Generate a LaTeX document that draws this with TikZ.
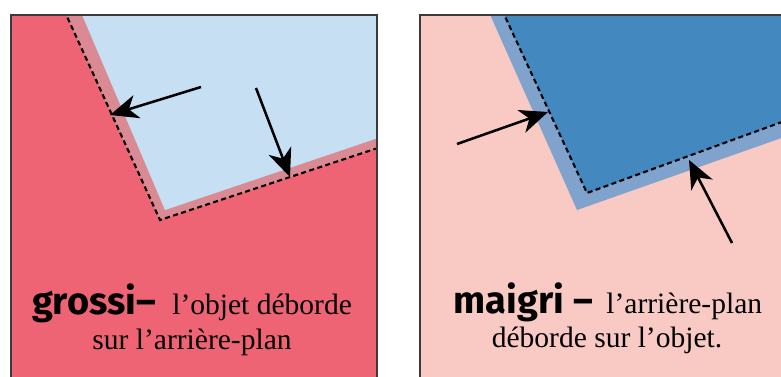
\documentclass[tikz,border=0pt]{standalone}
\usepackage{fontspec}
\setmainfont{Liberation Serif}
\newfontfamily\titresans{Fira Sans}
\usepackage{tikz}
\usetikzlibrary{arrows.meta}

\definecolor{fondrouge}{HTML}{EF6475}
\definecolor{bandrose}{HTML}{DA8A93}
\definecolor{cielclair}{HTML}{C6DFF3}
\definecolor{fondrose}{HTML}{F9C9C3}
\definecolor{bandbleu}{HTML}{7FA3CC}
\definecolor{bleufonce}{HTML}{4389C0}
\definecolor{cadregris}{HTML}{3A3A3A}

\begin{document}
\begin{tikzpicture}[
  x=0.025cm, y=-0.025cm,
  cadre/.style={draw=cadregris, line width=1.6pt},
  bord/.style={line width=1.5pt, dash pattern=on 3.6pt off 2.4pt},
  fleche/.style={-{Stealth[length=20pt,width=17pt,inset=6pt]}, line width=1.8pt},
  legende/.style={anchor=base, inner sep=0pt, font=\fontsize{21}{25}\selectfont},
  titre/.style={font=\titresans\bfseries\fontsize{27}{25}\selectfont}
]
\useasboundingbox (0,0) rectangle (781,376);

% grossi
\begin{scope}
  \clip (11,15) rectangle (377,390);
  \fill[fondrouge] (11,15) rectangle (377,390);
  \fill[bandrose] (64,10) -- (160,220) -- (390,144) -- (390,10) -- cycle;
  \fill[cielclair] (80,10) -- (165,210) -- (390,134) -- (390,10) -- cycle;
  \draw[bord] (64,10) -- (160,220) -- (390,144);
\end{scope}
\draw[cadre] (11,390) -- (11,15) -- (377,15) -- (377,390);

% maigri
\begin{scope}
  \clip (420,15) rectangle (790,390);
  \fill[fondrose] (420,15) rectangle (790,390);
  \fill[bandbleu] (488,10) -- (577,210) -- (790,135) -- (790,10) -- cycle;
  \fill[bleufonce] (502,10) -- (587,193) -- (790,119) -- (790,10) -- cycle;
  \draw[bord] (502,10) -- (587,193) -- (790,119);
\end{scope}
\draw[cadre] (420,390) -- (420,15) -- (790,15);

% fleches
\coordinate (g1) at (201,87);
\coordinate (g1b) at (110,115);
\coordinate (g2) at (256,88);
\coordinate (g2b) at (290,177);
\coordinate (m1) at (457,144);
\coordinate (m1b) at (548,112);
\coordinate (m2) at (732,243);
\coordinate (m2b) at (689,160);
\draw[fleche] (g1) -- (g1b);
\draw[fleche] (g2) -- (g2b);
\draw[fleche] (m1) -- (m1b);
\draw[fleche] (m2) -- (m2b);

% legendes
\node[legende] (gros1) at (192,314) {{\titresans\bfseries\fontsize{27}{25}\selectfont grossi–}\hspace{0.55em}l’objet déborde};
\node[legende] (gros2) at (192,349) {sur l’arrière-plan};
\node[legende] (maig1) at (608,313) {{\titresans\bfseries\fontsize{27}{25}\selectfont maigri –}\hspace{0.45em}l’arrière-plan};
\node[legende] (maig2) at (607,347) {déborde sur l’objet.};
\end{tikzpicture}
\end{document}
